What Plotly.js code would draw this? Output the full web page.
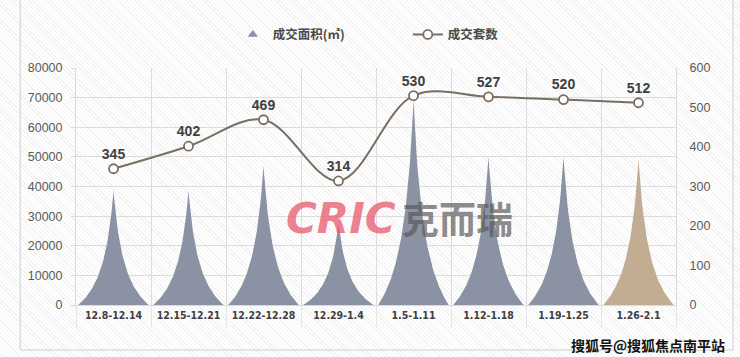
<!DOCTYPE html>
<html><head><meta charset="utf-8">
<script src="https://cdn.plot.ly/plotly-3.0.1.min.js"></script>
<style>
html,body{margin:0;padding:0;}
body{width:740px;height:357px;overflow:hidden;
background:repeating-linear-gradient(45deg,#ffffff 0px,#ffffff 2px,#f1f1f1 2px,#f1f1f1 3px);}
#chart{width:740px;height:357px;}
</style></head>
<body><div id="chart"></div>
<script>
const categories = ["12.8-12.14","12.15-12.21","12.22-12.28","12.29-1.4","1.5-1.11","1.12-1.18","1.19-1.25","1.26-2.1"];
const areaValues = [38500, 38500, 47000, 27800, 69000, 50000, 50000, 49000];
const unitValues = [345, 402, 469, 314, 530, 527, 520, 512];
const areaColors = ["#8b92a3","#8b92a3","#8b92a3","#8b92a3","#8b92a3","#8b92a3","#8b92a3","#c3ad92"];
const leftTicks = [0,10000,20000,30000,40000,50000,60000,70000,80000];
const rightTicks = [0,100,200,300,400,500,600];

const traces = [];
// spike-shaped "bars": profile derived from each value
const halfW = 0.47, k = 2.8, N = 60;
categories.forEach((c, i) => {
  const xs = [], ys = [];
  for (let j = 0; j <= 2 * N; j++) {
    const t = (j - N) / N;           // -1..1
    const a = Math.abs(t);
    xs.push(i + t * halfW);
    ys.push(areaValues[i] * (1 - a) / (1 + k * a));
  }
  traces.push({x: xs, y: ys, type: 'scatter', mode: 'lines', fill: 'toself',
    fillcolor: areaColors[i], line: {width: 0, color: areaColors[i]},
    hoverinfo: 'skip', showlegend: false, yaxis: 'y'});
});
// legend proxy for area
traces.push({x: [null], y: [null], type: 'scatter', mode: 'markers', name: '成交面积(㎡)',
  marker: {symbol: 'triangle-up', size: 9, color: '#8b92a3'}, yaxis: 'y'});
// line
traces.push({x: categories.map((c, i) => i), y: unitValues, type: 'scatter',
  mode: 'lines+markers+text', name: '成交套数', yaxis: 'y2',
  line: {color: '#7a6e62', width: 2, shape: 'spline', smoothing: 1},
  marker: {size: 9, color: '#ffffff', line: {color: '#7a6e62', width: 1.8}},
  text: unitValues.map(String), textposition: 'top center',
  textfont: {family: 'Liberation Sans, Arial, sans-serif', size: 14, color: '#404040', weight: 'bold'},
  cliponaxis: false});

const layout = {
  width: 740, height: 357,
  margin: {l: 76, r: 64, t: 68, b: 52},
  paper_bgcolor: 'rgba(0,0,0,0)', plot_bgcolor: 'rgba(0,0,0,0)',
  font: {family: 'Liberation Sans, Arial, sans-serif', color: '#595959', size: 12},
  showlegend: true,
  legend: {orientation: 'h', x: 0.553, xanchor: 'center', y: 1.14, yanchor: 'middle',
    font: {family: 'Noto Sans CJK SC, sans-serif', size: 12.5, color: '#4a4a4a', weight: 'bold'},
    bgcolor: 'rgba(0,0,0,0)', entrywidth: 130, itemwidth: 30},
  xaxis: {range: [-0.5, 7.5], tickmode: 'array', tickvals: categories.map((c, i) => i),
    ticktext: categories, showgrid: false, zeroline: false, ticks: '',
    showline: true, linecolor: '#d9d9d9', linewidth: 1,
    tickfont: {family: 'DejaVu Sans Condensed, DejaVu Sans, sans-serif', size: 10.5, color: '#404040', weight: 'bold'},
    minor: {tickmode: 'linear', tick0: 0.5, dtick: 1, showgrid: true, gridcolor: '#dcdcdc', gridwidth: 1,
      ticks: 'outside', ticklen: 22, tickcolor: '#e6e6e6'}},
  yaxis: {range: [0, 80000], tickmode: 'array', tickvals: leftTicks, ticktext: leftTicks.map(String),
    showgrid: true, gridcolor: '#dcdcdc', zeroline: false, showline: true, linecolor: '#d9d9d9',
    ticks: 'outside', ticklen: 4, tickcolor: '#d9d9d9', ticklabelstandoff: 6,
    tickfont: {size: 12.5, color: '#595959'}},
  yaxis2: {range: [0, 600], tickmode: 'array', tickvals: rightTicks, ticktext: rightTicks.map(String),
    overlaying: 'y', side: 'right',
    showgrid: false, zeroline: false, showline: true, linecolor: '#d9d9d9', ticks: '',
    ticklabelstandoff: 10, tickfont: {size: 12.5, color: '#595959'}},
  annotations: [
    {xref: 'paper', yref: 'paper', x: 0.537, y: 0.367, xanchor: 'right', yanchor: 'middle',
      text: '<b><i>CRIC</i></b>', showarrow: false,
      font: {family: 'DejaVu Sans, sans-serif', size: 42, color: 'rgba(232,90,110,0.75)'}},
    {xref: 'paper', yref: 'paper', x: 0.54, y: 0.367, xanchor: 'left', yanchor: 'middle',
      text: '<b>克而瑞</b>', showarrow: false,
      font: {family: 'Noto Sans CJK SC, sans-serif', size: 37, color: 'rgba(90,90,90,0.7)'}},
    {xref: 'paper', yref: 'paper', x: 1.085, y: -0.17, xanchor: 'right', yanchor: 'middle',
      text: '<b>搜狐号@搜狐焦点南平站</b>', showarrow: false,
      font: {family: 'Noto Sans CJK SC, sans-serif', size: 14, color: '#111111'}}
  ],
  shapes: [
    {type: 'line', xref: 'paper', yref: 'paper', x0: -0.093, x1: -0.093, y0: -0.19, y1: 1.4,
      line: {color: '#cfcfcf', width: 1}},
    {type: 'line', xref: 'paper', yref: 'paper', x0: -0.093, x1: 1.095, y0: -0.19, y1: -0.19,
      line: {color: '#cfcfcf', width: 1}},
    {type: 'line', xref: 'paper', yref: 'paper', x0: 1.095, x1: 1.095, y0: -0.19, y1: 1.4,
      line: {color: '#cfcfcf', width: 1}}
  ]
};
Plotly.newPlot('chart', traces, layout, {displayModeBar: false, staticPlot: true});
</script></body></html>
